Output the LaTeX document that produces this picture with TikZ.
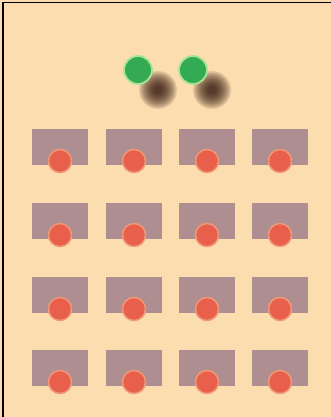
\documentclass[tikz,border=0pt]{standalone}
\definecolor{bg}{HTML}{FCDDB0}
\definecolor{desk}{HTML}{AE8E90}
\definecolor{seat}{HTML}{E8604C}
\definecolor{teach}{HTML}{35AA55}
\definecolor{glow}{HTML}{A8E495}
\definecolor{shad}{HTML}{2E1208}
\tikzset{
  deskbox/.style={fill=desk},
  student/.style={fill=seat, draw=seat!55!bg, line width=1.5pt},
  teacher/.style={fill=teach, draw=glow, line width=1.8pt},
  blurlayer/.style={fill=shad, fill opacity=0.13},
}
\begin{document}
\begin{tikzpicture}[x=1pt,y=-1pt]
\useasboundingbox (0,0) rectangle (331,417);
\fill[bg] (0,0) rectangle (331,417);
\draw[black, line width=1.6pt] (3,417) -- (3,2.5) -- (331,2.5);
% teacher shadows (soft)
\foreach \x in {158,212}{
  \foreach \r in {19,17.5,16,14.5,13,11.5,10,8.5,7,5.5,4}{
    \fill[blurlayer] (\x,90) circle (\r);
  }
}
% teachers
\foreach \x in {138,193}{
  \draw[teacher] (\x,70) circle (14);
}
% desks and students
\foreach \y in {129,203,277,350}{
  \foreach \x in {32,106,179,252}{
    \fill[deskbox] (\x,\y) rectangle ++(56,36);
    \draw[student] (\x+28,\y+32) circle (11.5);
  }
}
\end{tikzpicture}
\end{document}
